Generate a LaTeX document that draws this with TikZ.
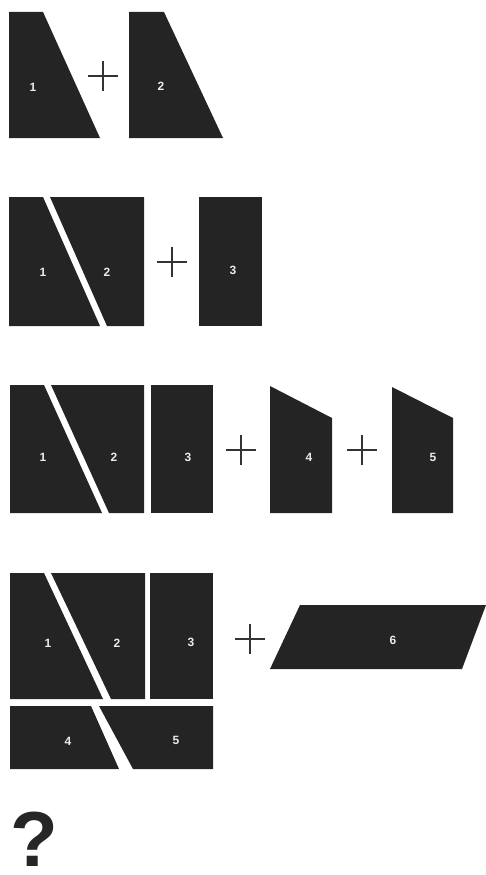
\documentclass[tikz,border=0pt]{standalone}
\usepackage{fontspec}
\setmainfont{Liberation Sans}
\usepackage{tikz}

\tikzset{
  piece/.style={fill=black!86},
  num/.style={text=white!92!black,font=\bfseries\fontsize{12}{12}\selectfont,inner sep=0pt},
  plusline/.style={line width=1.3pt,black!80}
}

\begin{document}
\begin{tikzpicture}[x=1pt,y=-1pt]
  \useasboundingbox (0,0) rectangle (486,875);
  % row 1
  \fill[piece] (9,12) -- (43,12) -- (100,138) -- (9,138) -- cycle;
  \fill[piece] (129,12) -- (164,12) -- (223,138) -- (129,138) -- cycle;
  \node[num] (a1) at (33,87) {1};
  \node[num] (a2) at (161,86) {2};
  % row 2
  \fill[piece] (9,197) -- (43,197) -- (100,326) -- (9,326) -- cycle;
  \fill[piece] (50,197) -- (144,197) -- (144,326) -- (107,326) -- cycle;
  \fill[piece] (199,197) -- (262,197) -- (262,326) -- (199,326) -- cycle;
  \node[num] (b1) at (43,272) {1};
  \node[num] (b2) at (107,272) {2};
  \node[num] (b3) at (233,270) {3};
  % row 3
  \fill[piece] (10,385) -- (44,385) -- (102,513) -- (10,513) -- cycle;
  \fill[piece] (51,385) -- (144,385) -- (144,513) -- (109,513) -- cycle;
  \fill[piece] (151,385) -- (213,385) -- (213,513) -- (151,513) -- cycle;
  \fill[piece] (270,386) -- (332,418) -- (332,513) -- (270,513) -- cycle;
  \fill[piece] (392,387) -- (453,418) -- (453,513) -- (392,513) -- cycle;
  \node[num] (c1) at (43,457) {1};
  \node[num] (c2) at (114,457) {2};
  \node[num] (c3) at (188,457) {3};
  \node[num] (c4) at (309,457) {4};
  \node[num] (c5) at (433,457) {5};
  % row 4
  \fill[piece] (10,573) -- (44,573) -- (103,699) -- (10,699) -- cycle;
  \fill[piece] (51,573) -- (145,573) -- (145,699) -- (111,699) -- cycle;
  \fill[piece] (150,573) -- (213,573) -- (213,699) -- (150,699) -- cycle;
  \fill[piece] (10,706) -- (91,706) -- (119,769) -- (10,769) -- cycle;
  \fill[piece] (99,706) -- (213,706) -- (213,769) -- (133,769) -- cycle;
  \fill[piece] (300,605) -- (486,605) -- (462,669) -- (270,669) -- cycle;
  \node[num] (d1) at (48,643) {1};
  \node[num] (d2) at (117,643) {2};
  \node[num] (d3) at (191,642) {3};
  \node[num] (d4) at (68,741) {4};
  \node[num] (d5) at (176,740) {5};
  \node[num] (d6) at (393,640) {6};
  % plus signs
  \foreach \px/\py in {103/76,172/262,241/450,362/450,250/639}
    \draw[plusline] (\px-15,\py) -- (\px+15,\py) (\px,\py-15) -- (\px,\py+15);
  % question
  \node[anchor=base west,inner sep=0pt,text=black!85,font=\bfseries\fontsize{78}{78}\selectfont] (q) at (10,866) {?};
\end{tikzpicture}
\end{document}
